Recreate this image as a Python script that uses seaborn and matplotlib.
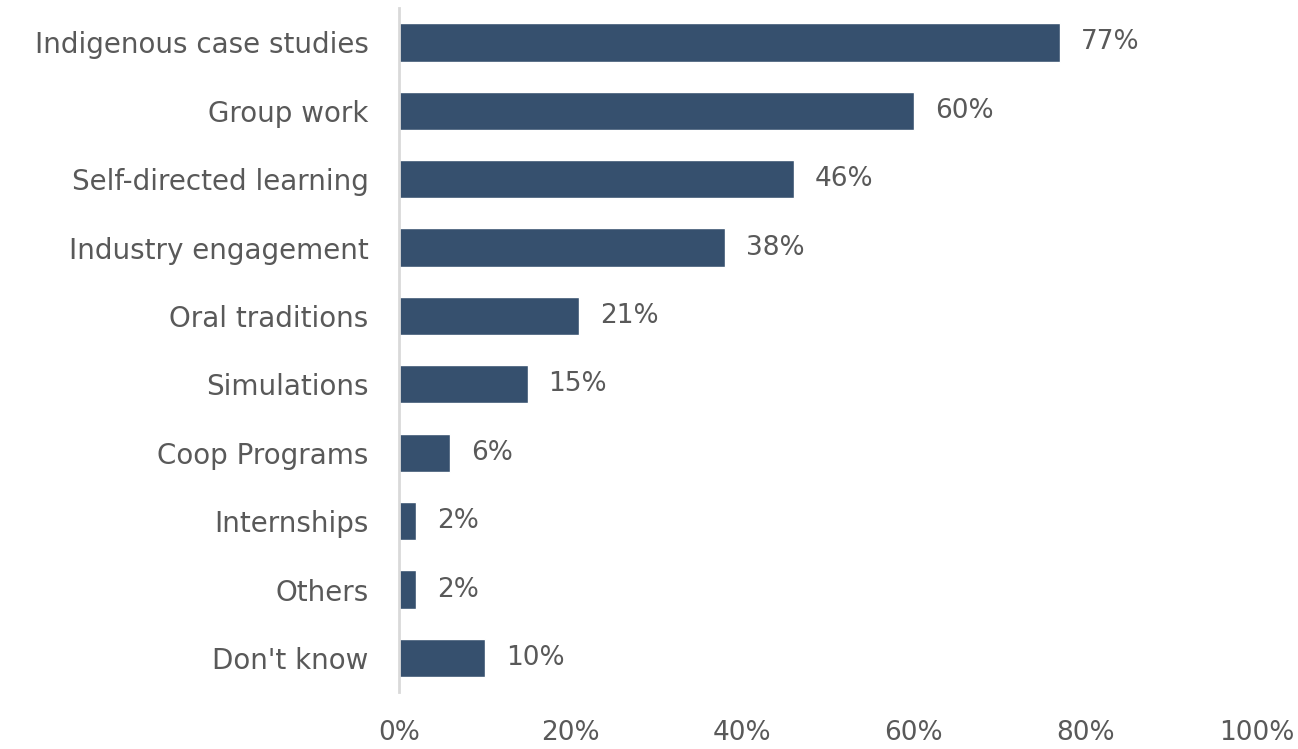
import matplotlib
matplotlib.use("Agg")
import matplotlib.pyplot as plt
import seaborn as sns
import pandas as pd

categories = [
    "Indigenous case studies",
    "Group work",
    "Self-directed learning",
    "Industry engagement",
    "Oral traditions",
    "Simulations",
    "Coop Programs",
    "Internships",
    "Others",
    "Don't know",
]
values = [77, 60, 46, 38, 21, 15, 6, 2, 2, 10]
x_ticks = [0, 20, 40, 60, 80, 100]

sns.set_theme(style="white")
plt.rcParams["font.family"] = ["DejaVu Sans"]

text_color = "#595959"
bar_color = "#36506e"

df = pd.DataFrame({"category": categories, "value": values})

fig = plt.figure(figsize=(12.98, 7.49), dpi=100)
ax = fig.add_axes([0.3074, 0.076, 0.661, 0.913])

sns.barplot(data=df, x="value", y="category", orient="h", color=bar_color,
            saturation=1, width=0.56, ax=ax)

for c in ax.containers:
    ax.bar_label(c, labels=[f"{v}%" for v in values], padding=15,
                 fontsize=19, color=text_color)

ax.set_xlim(0, 100)
ax.set_xticks(x_ticks)
ax.set_xticklabels([f"{t}%" for t in x_ticks])
ax.set_xlabel("")
ax.set_ylabel("")

for s in ["top", "right", "bottom"]:
    ax.spines[s].set_visible(False)
ax.spines["left"].set_color("#d9d9d9")
ax.spines["left"].set_linewidth(2)

ax.tick_params(axis="x", length=0, pad=20, labelsize=19, labelcolor=text_color)
ax.tick_params(axis="y", length=0, pad=22, labelsize=20, labelcolor=text_color)

fig.savefig("out.png", dpi=100)
